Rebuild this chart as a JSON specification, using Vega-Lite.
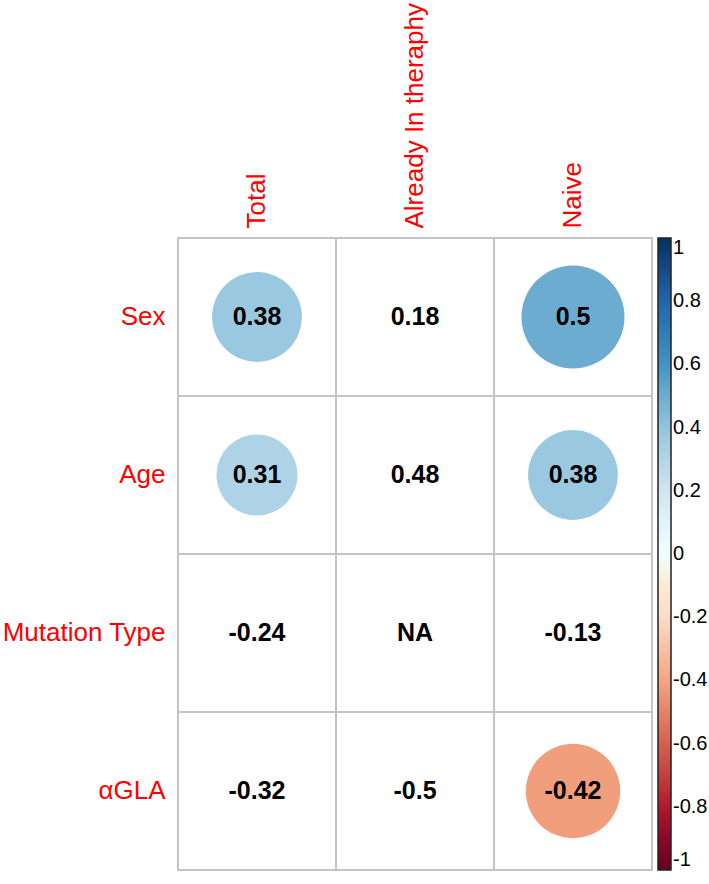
{
  "$schema": "https://vega.github.io/schema/vega-lite/v6.json",
  "width": 474,
  "height": 632,
  "autosize": {"type": "none"},
  "padding": {"left": 178, "top": 238, "right": 57, "bottom": 14},
  "background": "white",
  "config": {"view": {"stroke": null}, "font": "Liberation Sans"},
  "data": {
    "values": [
      {"row": "Sex", "col": "Total", "r": 0.38, "label": "0.38", "sig": true},
      {"row": "Sex", "col": "Already In theraphy", "r": 0.18, "label": "0.18", "sig": false},
      {"row": "Sex", "col": "Naive", "r": 0.5, "label": "0.5", "sig": true},
      {"row": "Age", "col": "Total", "r": 0.31, "label": "0.31", "sig": true},
      {"row": "Age", "col": "Already In theraphy", "r": 0.48, "label": "0.48", "sig": false},
      {"row": "Age", "col": "Naive", "r": 0.38, "label": "0.38", "sig": true},
      {"row": "Mutation Type", "col": "Total", "r": -0.24, "label": "-0.24", "sig": false},
      {"row": "Mutation Type", "col": "Already In theraphy", "r": null, "label": "NA", "sig": false},
      {"row": "Mutation Type", "col": "Naive", "r": -0.13, "label": "-0.13", "sig": false},
      {"row": "αGLA", "col": "Total", "r": -0.32, "label": "-0.32", "sig": false},
      {"row": "αGLA", "col": "Already In theraphy", "r": -0.5, "label": "-0.5", "sig": false},
      {"row": "αGLA", "col": "Naive", "r": -0.42, "label": "-0.42", "sig": true}
    ]
  },
  "encoding": {
    "x": {
      "field": "col", "type": "nominal",
      "sort": ["Total", "Already In theraphy", "Naive"],
      "scale": {"paddingInner": 0, "paddingOuter": 0},
      "axis": {
        "orient": "top", "title": null, "domain": false, "ticks": false,
        "labelAngle": -90, "labelColor": "#FF0000", "labelFontSize": 26,
        "labelPadding": 10, "labelFont": "Liberation Sans", "labelLimit": 400
      }
    },
    "y": {
      "field": "row", "type": "nominal",
      "sort": ["Sex", "Age", "Mutation Type", "αGLA"],
      "scale": {"paddingInner": 0, "paddingOuter": 0},
      "axis": {
        "title": null, "domain": false, "ticks": false,
        "labelColor": "#FF0000", "labelFontSize": 26, "labelPadding": 13,
        "labelFont": "Liberation Sans", "labelLimit": 400
      }
    }
  },
  "layer": [
    {
      "mark": {"type": "rect", "fill": "white", "stroke": "#C4C4C4", "strokeWidth": 2},
      "encoding": {}
    },
    {
      "transform": [
        {"filter": "datum.sig"},
        {"calculate": "abs(datum.r)", "as": "absr"}
      ],
      "mark": {"type": "circle", "opacity": 1, "strokeWidth": 0},
      "encoding": {
        "size": {"field": "absr", "type": "quantitative", "scale": {"domain": [0, 1], "range": [0, 21218]}, "legend": null},
        "color": {
          "field": "r", "type": "quantitative",
          "scale": {
            "domain": [-1, -0.8, -0.6, -0.4, -0.2, 0, 0.2, 0.4, 0.6, 0.8, 1],
            "range": ["#67001F", "#B2182B", "#D6604D", "#F4A582", "#FDDBC7", "#FFFFFF", "#D1E5F0", "#92C5DE", "#4393C3", "#2166AC", "#053061"]
          },
          "legend": {
            "title": null, "orient": "right", "offset": 6, "padding": 0,
            "direction": "vertical",
            "gradientLength": 632, "gradientThickness": 13,
            "gradientStrokeColor": "#222222", "gradientStrokeWidth": 1.5,
            "values": [-1, -0.8, -0.6, -0.4, -0.2, 0, 0.2, 0.4, 0.6, 0.8, 1],
            "labelFontSize": 20, "labelColor": "#000000", "labelOffset": 2,
            "labelBaseline": "middle",
            "labelOverlap": false, "labelFont": "Liberation Sans", "labelLimit": 100,
            "labelExpr": "replace(format(datum.value, '.1~f'), '−', '-')"
          }
        }
      }
    },
    {
      "mark": {"type": "text", "fontSize": 25, "fontWeight": "bold", "color": "#000000", "font": "Liberation Sans"},
      "encoding": {"text": {"field": "label", "type": "nominal"}}
    }
  ]
}
